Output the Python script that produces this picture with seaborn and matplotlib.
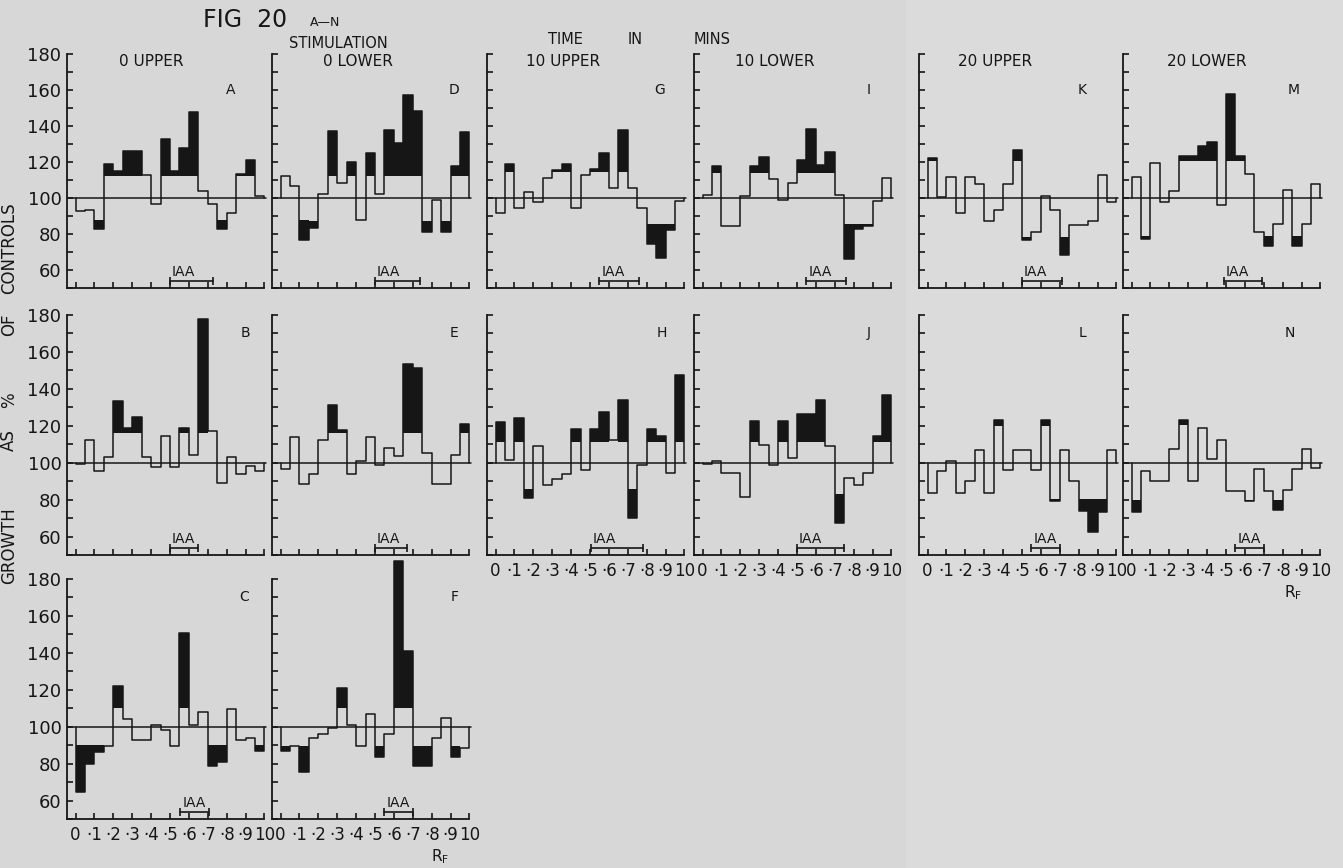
import matplotlib
matplotlib.use('Agg')
import matplotlib.pyplot as plt
import seaborn as sns

# --- data: growth as % of controls, 20 Rf strips (0.05 wide) per panel ---
rf_edges = [0.00, 0.05, 0.10, 0.15, 0.20, 0.25, 0.30, 0.35, 0.40, 0.45, 0.50,
            0.55, 0.60, 0.65, 0.70, 0.75, 0.80, 0.85, 0.90, 0.95, 1.00]
rf_ticks = [0.0, 0.1, 0.2, 0.3, 0.4, 0.5, 0.6, 0.7, 0.8, 0.9, 1.0]
rf_tick_labels = ['0', '·1', '·2', '·3', '·4', '·5', '·6', '·7', '·8', '·9', '10']
pct_ticks = [50, 60, 70, 80, 90, 100, 110, 120, 130, 140, 150, 160, 170, 180]
pct_labels = ['', '60', '', '80', '', '100', '', '120', '', '140', '', '160', '', '180']

vals_A = [92.6, 93.5, 83, 119, 115, 126, 126, 113, 96.7, 133,
          115, 128, 148, 103.7, 96.7, 83, 91.7, 113.5, 121, 101]
vals_B = [99.3, 112.3, 95.5, 103.2, 133.6, 118.6, 124.5, 103.2, 97.8, 114.4,
          97.8, 118.6, 104, 177.8, 117, 88.8, 103.2, 93.9, 98.4, 95.5]
vals_C = [64.8, 79.6, 86.5, 89.7, 122.2, 104.2, 92.8, 92.8, 101, 98.2,
          89.7, 150.9, 101, 107.8, 78.9, 80.7, 109.6, 92.8, 93.7, 86.8]
vals_D = [112.4, 106.5, 76.9, 83.4, 102.2, 137.4, 108.3, 119.8, 87.6, 125,
          102.4, 137.6, 130.5, 157, 148.1, 81, 98.7, 81, 118, 136.7]
vals_E = [96.4, 113.9, 88.6, 93.7, 112.1, 131.4, 117.5, 93.7, 100.9, 113.9,
          98.9, 108.1, 103.4, 153.2, 151.4, 105.2, 88.6, 88.6, 104, 121.1]
vals_F = [86.8, 89.7, 75.3, 94, 95.8, 99.5, 121.1, 100.9, 89.7, 106.7,
          83.8, 95.8, 189.7, 141, 78.9, 78.9, 94, 104.5, 83.8, 88.6]
vals_G = [91.5, 118.9, 94.4, 103.5, 98, 110.9, 115.7, 118.9, 94.4, 113,
          116.1, 125.2, 105.6, 137.8, 105.6, 94.4, 74.4, 66.7, 82.2, 98.5]
vals_H = [122.2, 101.3, 124, 81, 109, 87.7, 91.3, 94, 118.4, 95.8,
          118.4, 127.4, 112.1, 133.8, 69.9, 98.7, 118.4, 114.4, 94.6, 147.3]
vals_I = [101.9, 117.8, 84.3, 84.3, 101.1, 117.8, 122.8, 110.7, 98.7, 108.5,
          121.3, 138.5, 118.1, 125.6, 101.5, 66.3, 82.6, 84.6, 98.1, 111.1]
vals_J = [99.1, 100.9, 94.6, 94.6, 81.4, 122.6, 109.4, 98.7, 122.6, 102.3,
          126.5, 126.5, 133.8, 109, 67.1, 91.5, 87.9, 94.6, 114.4, 136.6]
vals_K = [122.3, 100.5, 111.6, 91.6, 111.6, 107.7, 87.5, 93.4, 107.7, 126.8,
          76.4, 80.9, 100.9, 93.4, 68.4, 84.8, 84.8, 87.5, 112.7, 97.9]
vals_L = [83.7, 95.6, 100.9, 83.7, 89.9, 107.1, 83.7, 123, 96.1, 107.1,
          107.1, 96.1, 123, 79.3, 107.1, 89.9, 73.9, 62.4, 73.4, 107.1]
vals_M = [111.8, 77, 119.6, 97.9, 104.1, 123.2, 123.2, 129.1, 130.9, 96.1,
          158, 123.2, 113.4, 81.3, 73.4, 85.7, 104.5, 73.4, 85.7, 108]
vals_N = [73.4, 95.6, 90.2, 90.2, 107.6, 123, 90.2, 118.6, 101.8, 112.4,
          84.6, 84.6, 79, 96.5, 84.6, 74.6, 85.3, 96.5, 107.6, 97]

# significant strips (black): indices above the upper limit / below the lower limit
sig_up = {'A': [3, 4, 5, 6, 9, 10, 11, 12, 17, 18], 'B': [4, 5, 6, 11, 13],
          'C': [4, 11], 'D': [5, 7, 9, 11, 12, 13, 14, 18, 19], 'E': [5, 6, 13, 14, 19],
          'F': [6, 12, 13], 'G': [1, 6, 7, 10, 11, 13],
          'H': [0, 2, 8, 10, 11, 13, 16, 17, 19], 'I': [1, 5, 6, 10, 11, 12, 13],
          'J': [5, 8, 10, 11, 12, 18, 19], 'K': [0, 9], 'L': [7, 12],
          'M': [5, 6, 7, 8, 10, 11], 'N': [5]}
sig_down = {'A': [2, 15], 'B': [], 'C': [0, 1, 2, 14, 15, 19], 'D': [2, 3, 15, 17],
            'E': [], 'F': [0, 2, 10, 14, 15, 18], 'G': [16, 17, 18], 'H': [3, 14],
            'I': [15, 16, 17], 'J': [14], 'K': [10, 14], 'L': [13, 16, 17, 18],
            'M': [1, 14, 17], 'N': [0, 12, 15]}
upper_limit = {'A': 112, 'B': 116, 'C': 110, 'D': 112.4, 'E': 116, 'F': 110, 'G': 114.3,
               'H': 111.4, 'I': 114.1, 'J': 111.4, 'K': 120.3, 'L': 119.9, 'M': 120.7, 'N': 120.4}
lower_limit = {'A': 88, 'B': 88, 'C': 90, 'D': 87.5, 'E': 88, 'F': 89.7, 'G': 85.6,
               'H': 85.6, 'I': 85.4, 'J': 82.9, 'K': 78.5, 'L': 80.1, 'M': 79.1, 'N': 80}
# Rf range of the IAA marker
iaa_range = {'A': (0.50, 0.73), 'B': (0.50, 0.65), 'C': (0.555, 0.705), 'D': (0.50, 0.74),
             'E': (0.50, 0.67), 'F': (0.55, 0.70), 'G': (0.55, 0.76), 'H': (0.505, 0.78),
             'I': (0.55, 0.76), 'J': (0.50, 0.75), 'K': (0.50, 0.71), 'L': (0.55, 0.70),
             'M': (0.49, 0.69), 'N': (0.55, 0.70)}
panel_vals = {'A': vals_A, 'B': vals_B, 'C': vals_C, 'D': vals_D, 'E': vals_E, 'F': vals_F,
              'G': vals_G, 'H': vals_H, 'I': vals_I, 'J': vals_J, 'K': vals_K, 'L': vals_L,
              'M': vals_M, 'N': vals_N}
col_titles = ['0 UPPER', '0 LOWER', '10 UPPER', '10 LOWER', '20 UPPER', '20 LOWER']

# --- layout (pixels of the 1343x868 canvas) ---
W, H = 1343, 868
panel_pos = {'A': (0, 0), 'B': (0, 1), 'C': (0, 2), 'D': (1, 0), 'E': (1, 1), 'F': (1, 2),
             'G': (2, 0), 'H': (2, 1), 'I': (3, 0), 'J': (3, 1), 'K': (4, 0), 'L': (4, 1),
             'M': (5, 0), 'N': (5, 1)}
col_left = [67, 272, 487, 694, 919, 1123]
row_span = [(54, 288), (315, 555), (579, 819)]
letter_x = {'A': 0.82, 'B': 0.90, 'C': 0.89, 'D': 0.92, 'E': 0.92, 'F': 0.92, 'G': 0.87,
            'H': 0.88, 'I': 0.88, 'J': 0.88, 'K': 0.82, 'L': 0.82, 'M': 0.86, 'N': 0.84}
title_x = [0.40, 0.41, 0.36, 0.38, 0.36, 0.40]
XMIN, XMAX = -0.045, 1.04

ink = '#161616'
bg = '#d7d7d7'

sns.set_theme(style='ticks')
plt.rcParams['font.family'] = ['DejaVu Sans']

fig = plt.figure(figsize=(W / 100, H / 100), dpi=100)
fig.patch.set_facecolor(bg)
fig.patches.append(plt.Rectangle((906 / W, 0), 1 - 906 / W, 1, transform=fig.transFigure,
                                 facecolor='#dbdbdb', edgecolor='none', zorder=-1))


def draw_panel(key):
    col, row = panel_pos[key]
    top, bot = row_span[row]
    ax = fig.add_axes([col_left[col] / W, 1 - bot / H, 205 / W, (bot - top) / H])
    ax.patch.set_alpha(0)
    vals = panel_vals[key]
    hi, lo = upper_limit[key], lower_limit[key]
    centers = [(rf_edges[i] + rf_edges[i + 1]) / 2 for i in range(20)]

    # black significant parts
    for i in sig_up[key]:
        ax.bar(centers[i], vals[i] - hi, bottom=hi, width=0.05, color=ink, lw=0, clip_on=False)
    for i in sig_down[key]:
        ax.bar(centers[i], lo - vals[i], bottom=vals[i], width=0.05, color=ink, lw=0, clip_on=False)

    # step outline
    xs = [0.0] + rf_edges[:20] + [1.0, 1.0]
    ys = [100] + vals + [vals[-1], 100]
    sns.lineplot(x=xs, y=ys, drawstyle='steps-post', estimator=None, sort=False,
                 color=ink, lw=1.1, ax=ax)
    for ln in ax.lines:
        ln.set_clip_on(False)
    ax.plot([XMIN, 1.01], [100, 100], color=ink, lw=1.1)

    # IAA marker
    a, b = iaa_range[key]
    ax.plot([a, b], [54, 54], color=ink, lw=1.2, marker='|', ms=6, mew=1.2)
    ax.text(a + 0.01, 54.8, 'IAA', fontsize=10, color=ink, ha='left', va='bottom')

    ax.text(letter_x[key], 170 if row else 160, key, fontsize=10, color=ink,
            ha='center', va='center')
    if row == 0:
        ax.text(title_x[col], 176, col_titles[col], fontsize=11, color=ink,
                ha='center', va='center')

    ax.set_xlim(XMIN, XMAX)
    ax.set_ylim(50, 180)
    ax.set_xlabel('')
    ax.set_ylabel('')
    for s in ['top', 'right']:
        ax.spines[s].set_visible(False)
    for s in ['left', 'bottom']:
        ax.spines[s].set_color(ink)
        ax.spines[s].set_linewidth(1.3)
    ax.spines['bottom'].set_bounds(XMIN, 1.0)
    ax.set_xticks(rf_ticks)
    ax.set_yticks(pct_ticks)
    ax.tick_params(direction='in', length=4, width=1.2, colors=ink, labelsize=12,
                   pad=5)
    ax.set_yticklabels(pct_labels if col == 0 else [])
    last_row = 2 if col < 2 else 1
    ax.set_xticklabels(rf_tick_labels if row == last_row else [])
    ax.tick_params(axis='y', pad=4, labelsize=13)
    return ax


for k in panel_vals:
    draw_panel(k)


def fx(px):
    return px / W


def fy(py):
    return 1 - py / H


fig.text(fx(245), fy(20), 'FIG  20', fontsize=17, color=ink, ha='center', va='center')
fig.text(fx(325), fy(23), 'A—N', fontsize=9, color=ink, ha='center', va='center')
fig.text(fx(338), fy(43), 'STIMULATION', fontsize=10.5, color=ink, ha='center', va='center')
fig.text(fx(565), fy(40), 'TIME', fontsize=10.5, color=ink, ha='center', va='center')
fig.text(fx(635), fy(40), 'IN', fontsize=10.5, color=ink, ha='center', va='center')
fig.text(fx(712), fy(40), 'MINS', fontsize=10.5, color=ink, ha='center', va='center')

for word, yc in [('CONTROLS', 248), ('OF', 325), ('%', 400), ('AS', 440), ('GROWTH', 546)]:
    fig.text(fx(9), fy(yc), word, fontsize=12, color=ink, rotation=90,
             ha='center', va='center')

fig.text(fx(440), fy(857), r'R$_\mathsf{F}$', fontsize=11, color=ink, ha='center', va='center')
fig.text(fx(1293), fy(593), r'R$_\mathsf{F}$', fontsize=11, color=ink, ha='center', va='center')

fig.savefig('out.png', dpi=100, facecolor=fig.get_facecolor())
